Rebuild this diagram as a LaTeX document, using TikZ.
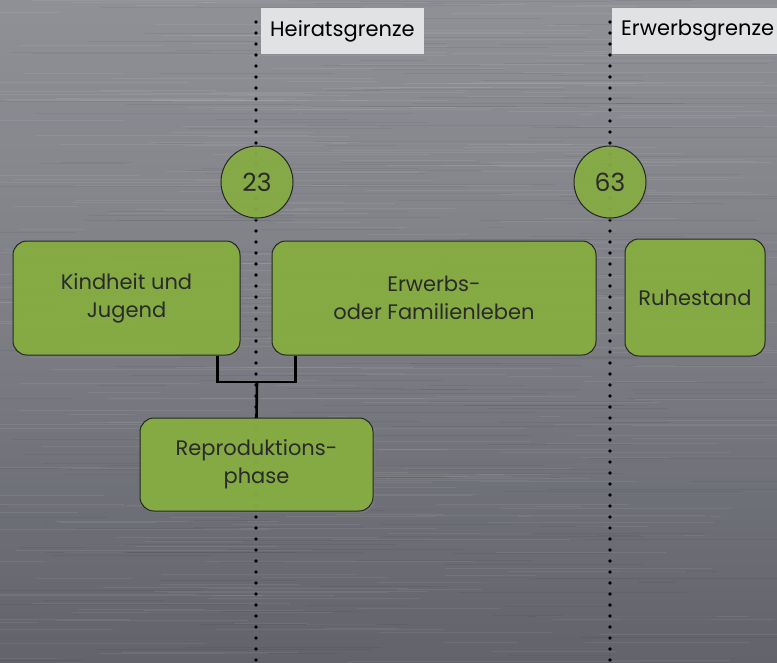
\documentclass[tikz,border=0pt]{standalone}
\usepackage{fontspec}
\setmainfont{Poppins}
\usetikzlibrary{positioning, calc, shadows}

\definecolor{phasegreen}{HTML}{86AE40}
\definecolor{labelgray}{HTML}{E1E2E4}
\definecolor{textdark}{HTML}{2A2A2A}
\definecolor{metaltop}{HTML}{A3A5AB}
\definecolor{metalmid}{HTML}{8E9097}
\definecolor{metalbot}{HTML}{70717A}

\tikzset{
	phase/.style={draw=black!85, line width=1pt, fill=phasegreen, fill opacity=0.93, text opacity=1,
		rounded corners=14pt, align=center, text=textdark, inner sep=0pt,
		font=\fontsize{21}{28}\selectfont,
		drop shadow={shadow xshift=2pt, shadow yshift=-2pt, opacity=0.45}},
	age/.style={circle, draw=black!85, line width=1pt, fill=phasegreen, fill opacity=0.9, text opacity=1,
		minimum size=72pt, inner sep=0pt, text=textdark, font=\fontsize{25}{28}\selectfont,
		drop shadow={shadow xshift=2pt, shadow yshift=-2pt, opacity=0.45}},
	boundary/.style={fill=labelgray, anchor=west, minimum height=46pt, inner xsep=9pt,
		text=black, font=\fontsize{21}{24}\selectfont},
	limit/.style={line width=3.6pt, line cap=round, dash pattern=on 0pt off 11pt},
	link/.style={line width=2.6pt, black}
}

\begin{document}
\begin{tikzpicture}[x=1pt, y=-1pt]
			\useasboundingbox (0, 0) rectangle (777, 662);
			\fill[top color=metaltop, bottom color=metalbot, middle color=metalmid] (0, 0) rectangle (777, 662);
			\shade[left color=black, middle color=white, right color=black, opacity=0.12] (0, 0) rectangle (777, 662);
			\pgfmathsetseed{7}
			\foreach \i in {1,...,320} {
				\pgfmathsetmacro{\ly}{rnd*662}
				\pgfmathsetmacro{\lx}{rnd*700-60}
				\pgfmathsetmacro{\lw}{60+rnd*240}
				\draw[white, opacity=0.07, line width=0.8pt] (\lx, \ly) -- ++(\lw, 0);
			}
			\foreach \i in {1,...,220} {
				\pgfmathsetmacro{\ly}{rnd*662}
				\pgfmathsetmacro{\lx}{rnd*700-60}
				\pgfmathsetmacro{\lw}{60+rnd*240}
				\draw[black, opacity=0.05, line width=0.8pt] (\lx, \ly) -- ++(\lw, 0);
			}
			
			\coordinate (heirat top) at (256, 22);
			\coordinate (heirat bottom) at (256, 662);
			\coordinate (erwerb top) at (610, 22);
			\coordinate (erwerb bottom) at (610, 662);
			\draw[limit] (heirat top) -- (heirat bottom);
			\draw[limit] (erwerb top) -- (erwerb bottom);
			
			\node[boundary] (heirat) at (261, 31) {Heiratsgrenze};
			\node[boundary, minimum width=180pt, align=left, text width=162pt] (erwerb) at (612, 31) {Erwerbsgrenze};
			
			\node[age] (age23) at (257, 182) {23};
			\node[age] (age63) at (610, 182) {63};
			
			\node[phase, minimum width=227pt, minimum height=114pt] (kindheit) at (126.5, 298) {Kindheit und\\Jugend};
			\node[phase, minimum width=324pt, minimum height=114pt] (erwerbsleben) at (434, 298) {Erwerbs-\\oder Familienleben};
			\node[phase, minimum width=140pt, minimum height=117pt] (ruhestand) at (695, 297.5) {Ruhestand};
			\node[phase, minimum width=233pt, minimum height=93pt] (repro) at (256.5, 464.5) {Reproduktions-\\phase};
			
			\coordinate (fork) at (257, 382);
			\draw[link] ($(kindheit.south east)+(-23, 0)$) |- (fork) -| ($(erwerbsleben.south west)+(24, 0)$);
			\draw[link] (fork) -- (repro.north);
\end{tikzpicture}
\end{document}
